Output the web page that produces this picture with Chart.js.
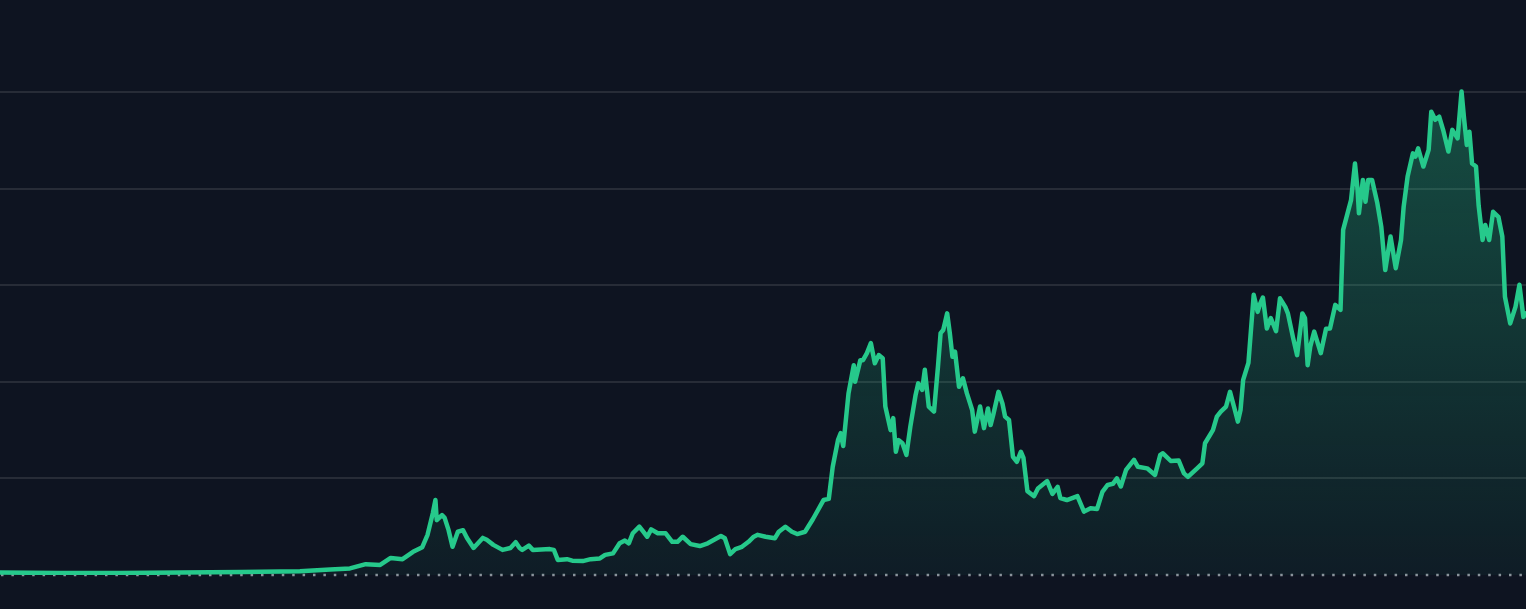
<!DOCTYPE html>
<html>
<head>
<meta charset="utf-8">
<title>Price chart</title>
<script src="https://cdn.jsdelivr.net/npm/chart.js@4.4.1/dist/chart.umd.min.js"></script>
<style>
  html, body { margin: 0; padding: 0; background: #0e1421; }
  #wrap { width: 1526px; height: 609px; position: relative; }
</style>
</head>
<body>
<div id="wrap"><canvas id="priceChart"></canvas></div>
<script>
// --- Data (decimal year, price in USD) ---
const years = [
  2014.66, 2015.12, 2015.57, 2016.03, 2016.49, 2016.79, 2016.94, 2017.17, 2017.32, 2017.44,
  2017.55, 2017.63, 2017.72, 2017.80, 2017.87, 2017.91, 2017.95, 2017.97, 2017.98, 2018.02,
  2018.04, 2018.07, 2018.10, 2018.14, 2018.18, 2018.21, 2018.26, 2018.33, 2018.36, 2018.41,
  2018.48, 2018.54, 2018.58, 2018.61, 2018.63, 2018.68, 2018.71, 2018.84, 2018.87, 2018.90,
  2018.97, 2019.01, 2019.09, 2019.15, 2019.22, 2019.26, 2019.32, 2019.37, 2019.41, 2019.44,
  2019.47, 2019.52, 2019.55, 2019.58, 2019.61, 2019.66, 2019.72, 2019.77, 2019.81, 2019.85,
  2019.91, 2019.98, 2020.04, 2020.14, 2020.17, 2020.21, 2020.25, 2020.30, 2020.35, 2020.39,
  2020.42, 2020.48, 2020.55, 2020.58, 2020.63, 2020.68, 2020.72, 2020.78, 2020.84, 2020.92,
  2020.96, 2020.99, 2021.03, 2021.05, 2021.07, 2021.11, 2021.15, 2021.16, 2021.20, 2021.22,
  2021.25, 2021.28, 2021.31, 2021.34, 2021.37, 2021.39, 2021.43, 2021.45, 2021.47, 2021.49,
  2021.52, 2021.55, 2021.58, 2021.62, 2021.64, 2021.67, 2021.69, 2021.72, 2021.76, 2021.79,
  2021.81, 2021.83, 2021.86, 2021.88, 2021.90, 2021.92, 2021.95, 2021.98, 2022.01, 2022.05,
  2022.07, 2022.11, 2022.14, 2022.17, 2022.19, 2022.21, 2022.25, 2022.28, 2022.30, 2022.33,
  2022.36, 2022.39, 2022.42, 2022.44, 2022.47, 2022.52, 2022.55, 2022.62, 2022.66, 2022.70,
  2022.72, 2022.77, 2022.85, 2022.90, 2022.95, 2023.00, 2023.04, 2023.08, 2023.12, 2023.15,
  2023.18, 2023.22, 2023.28, 2023.31, 2023.38, 2023.44, 2023.48, 2023.50, 2023.56, 2023.62,
  2023.66, 2023.69, 2023.76, 2023.80, 2023.82, 2023.88, 2023.91, 2023.94, 2023.98, 2024.01,
  2024.04, 2024.07, 2024.09, 2024.11, 2024.15, 2024.19, 2024.22, 2024.24, 2024.26, 2024.29,
  2024.32, 2024.36, 2024.39, 2024.43, 2024.45, 2024.49, 2024.52, 2024.56, 2024.58, 2024.60,
  2024.62, 2024.65, 2024.70, 2024.74, 2024.77, 2024.81, 2024.85, 2024.87, 2024.93, 2024.96,
  2024.98, 2024.99, 2025.02, 2025.04, 2025.06, 2025.09, 2025.13, 2025.16, 2025.19, 2025.23,
  2025.27, 2025.31, 2025.33, 2025.36, 2025.40, 2025.42, 2025.44, 2025.48, 2025.52, 2025.54,
  2025.57, 2025.60, 2025.63, 2025.67, 2025.70, 2025.74, 2025.77, 2025.79, 2025.81, 2025.83,
  2025.85, 2025.88, 2025.90, 2025.93, 2025.95, 2025.98, 2026.01, 2026.05, 2026.08, 2026.10,
  2026.14, 2026.18, 2026.21, 2026.24, 2026.26
];
const prices = [
  650, 500, 500, 650, 800, 900, 1000, 1400, 1700, 2800,
  2600, 4400, 4100, 6000, 7200, 10400, 16000, 19400, 14200, 15500,
  14800, 11600, 7300, 11200, 11600, 9600, 7000, 9600, 9100, 7800,
  6500, 7000, 8500, 7000, 6500, 7600, 6500, 6700, 6500, 3900,
  4100, 3700, 3600, 4100, 4300, 5200, 5600, 8200, 8900, 8200,
  10800, 12500, 11200, 9900, 11800, 10800, 10800, 8600, 8600, 9900,
  8000, 7500, 8200, 10100, 9500, 5400, 6700, 7300, 8600, 9900,
  10400, 9900, 9500, 11200, 12500, 11200, 10600, 11200, 14500, 19400,
  19700, 28000, 34900, 36700, 33400, 47000, 54300, 50000, 55600, 55600,
  57400, 60000, 54800, 56900, 56100, 43600, 37500, 40600, 31900, 34900,
  34100, 31100, 38400, 46600, 49600, 47900, 53100, 43600, 42300, 53900,
  62600, 63400, 67700, 62600, 56500, 57800, 48700, 50900, 47000, 42700,
  37100, 43600, 38000, 43100, 38800, 41400, 47400, 44400, 41000, 40100,
  30600, 29300, 31900, 30300, 21700, 20400, 22400, 24300, 21000, 22800,
  19900, 19400, 20400, 16400, 17300, 17100, 21500, 23300, 23600, 25000,
  22900, 27200, 29800, 28000, 27600, 25900, 31100, 31500, 29500, 29600,
  26300, 25400, 27600, 28900, 34100, 37500, 41000, 42300, 43600, 47400,
  43600, 39700, 42700, 50500, 54900, 72500, 68100, 70300, 71800, 63800,
  66500, 63100, 71600, 69400, 67700, 61300, 56900, 67700, 66500, 54300,
  59100, 63000, 57400, 63700, 63800, 69900, 68600, 89300, 97000, 106500,
  99600, 93600, 102200, 96600, 102200, 102200, 96200, 90100, 78900, 87600,
  79400, 86700, 95300, 103100, 109100, 108300, 110400, 105700, 110000, 119900,
  117800, 118600, 115200, 109600, 115200, 113000, 125100, 117800, 111300, 114700,
  106500, 105700, 95600, 86700, 90600, 86700, 94000, 92700, 87600, 72000,
  65100, 69400, 75100, 66800, 67700
];
const gridValues = [25000, 50000, 75000, 100000, 125000];
const yMax = 148800;

// --- Colors ---
const lineColor = "#26c98b";
const gridColor = "#272c37";
const baseDotColor = "#8d929c";

// dotted zero line under the series
const baselinePlugin = {
  id: "baseline",
  beforeDatasetsDraw(chart) {
    const {ctx, chartArea, scales} = chart;
    const y = scales.y.getPixelForValue(0);
    ctx.save();
    ctx.strokeStyle = baseDotColor;
    ctx.lineWidth = 2.5;
    ctx.setLineDash([2.5, 7.9]);
    ctx.beginPath();
    ctx.moveTo(chartArea.left + 1, y);
    ctx.lineTo(chartArea.right, y);
    ctx.stroke();
    ctx.restore();
  }
};

const points = years.map((x, i) => ({x, y: prices[i]}));

new Chart(document.getElementById("priceChart"), {
  type: "line",
  data: {
    datasets: [{
      data: points,
      borderColor: lineColor,
      borderWidth: 4.5,
      borderJoinStyle: "round",
      borderCapStyle: "round",
      tension: 0,
      pointRadius: 0,
      fill: "origin",
      backgroundColor: (c) => {
        const area = c.chart.chartArea;
        if (!area) return "rgba(38,201,139,0.2)";
        const g = c.chart.ctx.createLinearGradient(0, area.top + 90, 0, area.bottom);
        g.addColorStop(0, "rgba(38,201,139,0.32)");
        g.addColorStop(1, "rgba(38,201,139,0.05)");
        return g;
      }
    }]
  },
  options: {
    responsive: true,
    maintainAspectRatio: false,
    animation: false,
    layout: { padding: { top: 0, bottom: 34, left: 0, right: 0 } },
    plugins: { legend: { display: false }, tooltip: { enabled: false } },
    scales: {
      x: {
        type: "linear",
        display: false,
        min: years[0],
        max: years[years.length - 1]
      },
      y: {
        display: true,
        min: 0,
        max: yMax,
        afterBuildTicks: (axis) => { axis.ticks = gridValues.map(v => ({value: v})); },
        border: { display: false },
        ticks: { display: false },
        grid: { drawTicks: false, lineWidth: 2, color: gridColor }
      }
    }
  },
  plugins: [baselinePlugin]
});
</script>
</body>
</html>
